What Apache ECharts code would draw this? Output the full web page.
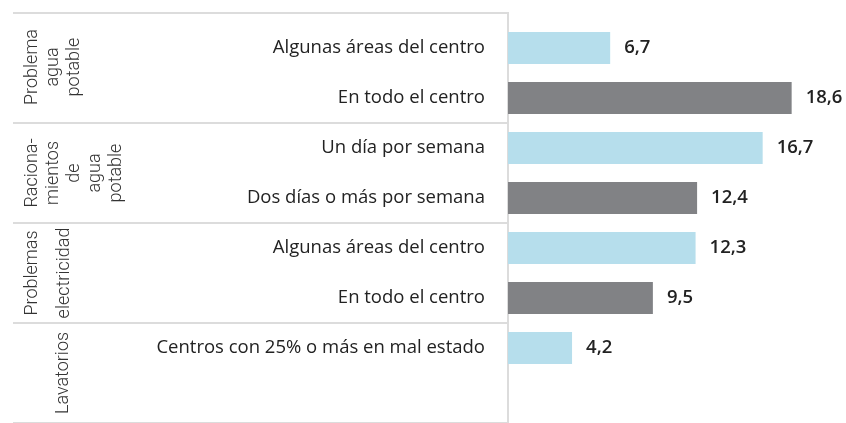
<!DOCTYPE html>
<html>
<head>
<meta charset="utf-8">
<script src="https://cdn.jsdelivr.net/npm/echarts@6/dist/echarts.min.js"></script>
<style>
html,body{margin:0;padding:0;background:#fff;}
#main{width:846px;height:423px;}
</style>
</head>
<body>
<div id="main"></div>
<script>
// categorias (la ultima fila queda vacia bajo "Lavatorios")
var categorias = ['Algunas áreas del centro', 'En todo el centro', 'Un día por semana', 'Dos días o más por semana',
	'Algunas áreas del centro ', 'En todo el centro ', 'Centros con 25% o más en mal estado', ''];
var valores = [6.7, 18.6, 16.7, 12.4, 12.3, 9.5, 4.2];
var grupos = ['Problema\nagua\npotable', 'Raciona-\nmientos\nde\nagua\npotable', 'Problemas\nelectricidad', 'Lavatorios'];
var colores = ['#b6deec', '#818285'];

var fuente = 'Open Sans';
var fuenteGrupo = 'Roboto';
var myChart = echarts.init(document.getElementById('main'));

var option = {
	animation: false,
	grid: {
		left: 508,
		right: 33,
		top: 23,
		bottom: -2
	},
	xAxis: {
		type: 'value',
		min: 0,
		max: 20,
		show: false
	},
	yAxis: [
		{
			type: 'category',
			data: categorias,
			inverse: true,
			axisLine: { show: true, lineStyle: { color: '#dcdcdc', width: 2 } },
			axisTick: { show: false },
			axisLabel: {
				interval: 0,
				margin: 23,
				color: '#222',
				fontFamily: fuente,
				fontSize: 18.5,
				formatter: function (v) { return v.trim(); }
			}
		},
		{
			type: 'category',
			data: grupos,
			inverse: true,
			position: 'left',
			axisLine: { show: false },
			axisTick: {
				show: true,
				length: 495,
				interval: function (i) { return i > 0; },
				lineStyle: { color: '#dcdcdc', width: 2 }
			},
			axisLabel: {
				interval: 0,
				hideOverlap: false,
				rotate: 90,
				margin: 486,
				align: 'center',
				verticalAlign: 'top',
				color: '#333',
				fontFamily: fuenteGrupo,
				fontWeight: 300,
				fontSize: 18,
				lineHeight: 21,
				rich: {
					p: { fontFamily: fuenteGrupo, fontWeight: 300, fontSize: 18, color: '#333', lineHeight: 21, padding: [0, 0, 0, 12] },
					a: { fontFamily: fuenteGrupo, fontWeight: 300, fontSize: 18, color: '#333', lineHeight: 21 },
					b: { fontFamily: fuenteGrupo, fontWeight: 300, fontSize: 18, color: '#333', lineHeight: 42 },
					c: { fontFamily: fuenteGrupo, fontWeight: 300, fontSize: 18, color: '#333', lineHeight: 82 }
				},
				formatter: function (v, i) {
					var l = v.split('\n');
					if (i == 0) return l.map(function (s) { return '{p|' + s + '}'; }).join('\n');
					if (i == 2) return '{a|' + l[0] + '}\n{b|' + l[1] + '}';
					if (i == 3) return '{c|' + v + '}';
					return v;
				}
			}
		}
	],
	graphic: [
		{
			type: 'polyline',
			shape: { points: [[13, 13], [508, 13], [508, 24]] },
			style: { stroke: '#dcdcdc', lineWidth: 2, fill: null }
		}
	],
	series: [
		{
			type: 'bar',
			yAxisIndex: 0,
			barWidth: 32,
			data: valores,
			itemStyle: {
				color: function (p) { return colores[p.dataIndex % 2]; }
			},
			label: {
				show: true,
				position: 'right',
				distance: 14,
				color: '#222',
				fontFamily: fuente,
				fontWeight: 600,
				fontSize: 18.5,
				formatter: function (p) { return p.value.toFixed(1).replace('.', ','); }
			}
		}
	]
};

myChart.setOption(option);
</script>
</body>
</html>
